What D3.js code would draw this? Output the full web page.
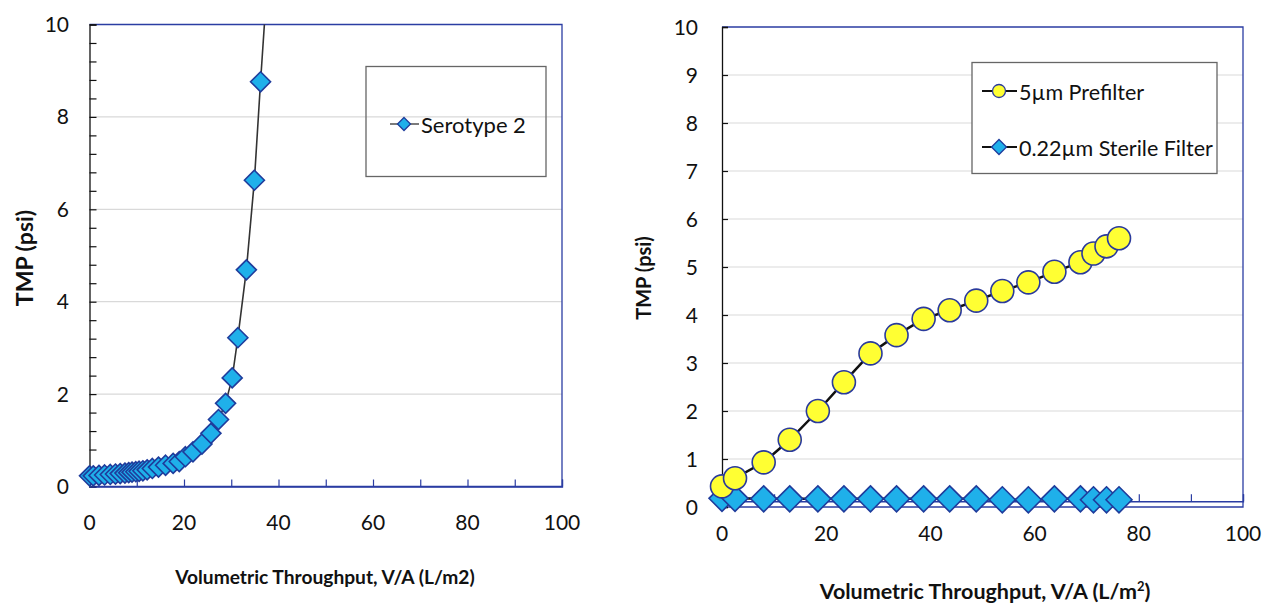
<!DOCTYPE html>
<html>
<head>
<meta charset="utf-8">
<script src="https://cdn.jsdelivr.net/npm/d3@7"></script>
<style>
  html, body { margin: 0; padding: 0; background: #fff; }
  svg { display: block; }
  text { font-family: Lato, "Noto Sans", sans-serif; fill: #111; }
</style>
</head>
<body>
<svg id="chart" width="1263" height="606"></svg>
<script>
// Serotype 2 throughput run (left panel)
const seroX = [0, 0.8, 2, 3.2, 4.4, 5.5, 6.5, 7.5, 8.3, 9.0, 9.8, 10.5, 11.3, 12.2, 13.3, 14.6, 16.1, 17.7, 19.0, 20.3, 21.9, 23.8, 25.7, 27.3, 28.8, 30.2, 31.4, 33.2, 34.9, 36.2, 37.8];
const seroY = [0.23, 0.23, 0.24, 0.25, 0.26, 0.27, 0.28, 0.29, 0.30, 0.31, 0.32, 0.33, 0.34, 0.36, 0.39, 0.42, 0.46, 0.50, 0.54, 0.645, 0.75, 0.92, 1.15, 1.45, 1.8, 2.35, 3.22, 4.69, 6.63, 8.76, 11.2];

// Prefilter / sterile filter train (right panel)
const trainX = [0, 2.5, 8, 13, 18.4, 23.4, 28.5, 33.5, 38.7, 43.7, 48.8, 53.8, 58.8, 63.8, 68.8, 71.3, 73.8, 76.2];
const prefilterY = [0.43, 0.6, 0.93, 1.4, 2.0, 2.6, 3.2, 3.58, 3.92, 4.1, 4.3, 4.5, 4.68, 4.9, 5.1, 5.28, 5.43, 5.6];
const sterileY = [0.18, 0.18, 0.17, 0.17, 0.17, 0.17, 0.17, 0.17, 0.17, 0.17, 0.17, 0.15, 0.15, 0.17, 0.17, 0.15, 0.15, 0.15];

const xTickLabels = [0, 20, 40, 60, 80, 100];
const leftYTickLabels = [0, 2, 4, 6, 8, 10];
const rightYTickLabels = [0, 1, 2, 3, 4, 5, 6, 7, 8, 9, 10];

const svg = d3.select("#chart");
const FRAME = "#2b3da3";
const DIAMOND_FILL = "#1fb0ea", DIAMOND_STROKE = "#1f3c9c";
const CIRCLE_FILL = "#ffff33", CIRCLE_STROKE = "#2a3a9c";
const TICK_FONT = 21;

function diamondPath(cx, cy, r) {
  return `M${cx},${cy - r}L${cx + r},${cy}L${cx},${cy + r}L${cx - r},${cy}Z`;
}

/* ---------------- Left panel ---------------- */
{
  const x = d3.scaleLinear().domain([0, 100]).range([89.5, 562]);
  const y = d3.scaleLinear().domain([0, 10]).range([486.5, 24.5]);
  const g = svg.append("g");

  // horizontal gridlines
  g.selectAll("line.grid").data(leftYTickLabels.filter(v => v > 0 && v < 10)).join("line")
    .attr("x1", x(0)).attr("x2", x(100)).attr("y1", d => y(d)).attr("y2", d => y(d))
    .attr("stroke", "#d9d9d9").attr("stroke-width", 1.2);

  // plot frame (top / right / bottom)
  g.append("path")
    .attr("d", `M${x(0)},${y(10)}H${x(100)}V${y(0)}H${x(0)}`)
    .attr("fill", "none").attr("stroke", FRAME).attr("stroke-width", 1.3);

  // y axis: inside ticks every 0.4, labels every 2
  const yAx = g.append("g").attr("transform", `translate(${x(0)},0)`)
    .call(d3.axisRight(y).tickValues(d3.range(0, 10.01, 0.4)).tickSize(7).tickFormat(""));
  yAx.select(".domain").attr("stroke", "#111").attr("stroke-width", 1.3);
  yAx.selectAll(".tick line").attr("stroke", "#111").attr("stroke-width", 1.2);
  g.selectAll("text.ylab").data(leftYTickLabels).join("text")
    .attr("x", 69).attr("y", d => y(d)).attr("dy", "0.36em")
    .attr("text-anchor", "end").attr("font-size", TICK_FONT).text(d => d);

  // x axis: inside ticks every 10, labels every 20
  const xAx = g.append("g").attr("transform", `translate(0,${y(0)})`)
    .call(d3.axisTop(x).tickValues(d3.range(0, 101, 10)).tickSize(7).tickFormat(""));
  xAx.select(".domain").attr("stroke", FRAME).attr("stroke-width", 1.3);
  xAx.selectAll(".tick line").attr("stroke", FRAME).attr("stroke-width", 1.2);
  g.selectAll("text.xlab").data(xTickLabels).join("text")
    .attr("x", d => x(d)).attr("y", 530)
    .attr("text-anchor", "middle").attr("font-size", TICK_FONT).text(d => d);

  // axis titles
  g.append("text").attr("transform", `translate(33,258) rotate(-90)`)
    .attr("text-anchor", "middle").attr("font-size", 23).attr("font-weight", "bold").text("TMP (psi)");
  g.append("text").attr("x", 325).attr("y", 584)
    .attr("text-anchor", "middle").attr("font-size", 19.2).attr("font-weight", "bold")
    .text("Volumetric Throughput, V/A (L/m2)");

  // series line, clipped to the plotting region
  g.append("clipPath").attr("id", "clipL").append("rect")
    .attr("x", x(0)).attr("y", y(10)).attr("width", x(100) - x(0)).attr("height", y(0) - y(10));
  const pts = seroX.map((v, i) => [v, seroY[i]]);
  g.append("path").datum(pts).attr("clip-path", "url(#clipL)")
    .attr("d", d3.line().x(d => x(d[0])).y(d => y(d[1])))
    .attr("fill", "none").attr("stroke", "#333").attr("stroke-width", 1.6);

  g.selectAll("path.mk").data(pts.filter(d => d[1] <= 10)).join("path")
    .attr("d", d => diamondPath(x(d[0]), y(d[1]), 10))
    .attr("fill", DIAMOND_FILL).attr("stroke", DIAMOND_STROKE).attr("stroke-width", 1.6);

  // legend
  const lg = g.append("g");
  lg.append("rect").attr("x", 366).attr("y", 66.5).attr("width", 180).attr("height", 110)
    .attr("fill", "none").attr("stroke", "#666").attr("stroke-width", 1.3);
  lg.append("line").attr("x1", 390).attr("x2", 419).attr("y1", 124).attr("y2", 124)
    .attr("stroke", "#333").attr("stroke-width", 1.3);
  lg.append("path").attr("d", diamondPath(404, 124, 6.5))
    .attr("fill", DIAMOND_FILL).attr("stroke", DIAMOND_STROKE).attr("stroke-width", 1.3);
  lg.append("text").attr("x", 421).attr("y", 125).attr("dy", "0.35em")
    .attr("font-size", 22).text("Serotype 2");
}

/* ---------------- Right panel ---------------- */
{
  const x = d3.scaleLinear().domain([0, 100]).range([722, 1243]);
  const y = d3.scaleLinear().domain([0, 10]).range([507, 27]);
  const g = svg.append("g");

  g.selectAll("line.grid").data(rightYTickLabels.filter(v => v > 0 && v < 10)).join("line")
    .attr("x1", x(0)).attr("x2", x(100)).attr("y1", d => y(d)).attr("y2", d => y(d))
    .attr("stroke", "#d9d9d9").attr("stroke-width", 1.2);

  g.append("path")
    .attr("d", `M${x(0)},${y(10)}H${x(100)}V${y(0)}H${x(0)}`)
    .attr("fill", "none").attr("stroke", FRAME).attr("stroke-width", 1.3);

  const yAx = g.append("g").attr("transform", `translate(${x(0)},0)`)
    .call(d3.axisRight(y).tickValues(rightYTickLabels).tickSize(6).tickFormat(""));
  yAx.select(".domain").attr("stroke", "#111").attr("stroke-width", 1.3);
  yAx.selectAll(".tick line").attr("stroke", "#111").attr("stroke-width", 1.2);
  g.selectAll("text.ylab").data(rightYTickLabels).join("text")
    .attr("x", 698).attr("y", d => y(d)).attr("dy", "0.36em")
    .attr("text-anchor", "end").attr("font-size", TICK_FONT).text(d => d);

  // x axis crosses slightly above zero
  const xAx = g.append("g").attr("transform", `translate(0,${y(0.12)})`)
    .call(d3.axisTop(x).tickValues(d3.range(0, 101, 10)).tickSize(7).tickFormat(""));
  xAx.select(".domain").attr("stroke", FRAME).attr("stroke-width", 1.3);
  xAx.selectAll(".tick line").attr("stroke", FRAME).attr("stroke-width", 1.2);
  g.selectAll("text.xlab").data(xTickLabels).join("text")
    .attr("x", d => x(d)).attr("y", 541)
    .attr("text-anchor", "middle").attr("font-size", TICK_FONT).text(d => d);

  g.append("text").attr("transform", `translate(651,278) rotate(-90)`)
    .attr("text-anchor", "middle").attr("font-size", 20).attr("font-weight", "bold").text("TMP (psi)");
  const title = g.append("text").attr("x", 985).attr("y", 599)
    .attr("text-anchor", "middle").attr("font-size", 21.5).attr("font-weight", "bold");
  title.append("tspan").text("Volumetric Throughput, V/A (L/m");
  title.append("tspan").attr("dy", -8).attr("font-size", 13).text("2");
  title.append("tspan").attr("dy", 8).text(")");

  const line = d3.line().x(d => x(d[0])).y(d => y(d[1]));
  const pre = trainX.map((v, i) => [v, prefilterY[i]]);
  const ster = trainX.map((v, i) => [v, sterileY[i]]);

  g.append("path").datum(ster).attr("d", line)
    .attr("fill", "none").attr("stroke", "#111").attr("stroke-width", 2.5);
  g.selectAll("path.dm").data(ster).join("path")
    .attr("d", d => diamondPath(x(d[0]), y(d[1]), 13))
    .attr("fill", DIAMOND_FILL).attr("stroke", DIAMOND_STROKE).attr("stroke-width", 1.6);

  g.append("path").datum(pre).attr("d", line)
    .attr("fill", "none").attr("stroke", "#111").attr("stroke-width", 2.5);
  g.selectAll("circle.pf").data(pre).join("circle")
    .attr("cx", d => x(d[0])).attr("cy", d => y(d[1])).attr("r", 11.5)
    .attr("fill", CIRCLE_FILL).attr("stroke", CIRCLE_STROKE).attr("stroke-width", 1.6);

  // legend
  const lg = g.append("g");
  lg.append("rect").attr("x", 972).attr("y", 62.5).attr("width", 245).attr("height", 111)
    .attr("fill", "#fff").attr("stroke", "#666").attr("stroke-width", 1.3);
  const rows = [
    { label: "5µm Prefilter", y: 91, kind: "circle" },
    { label: "0.22µm Sterile Filter", y: 147, kind: "diamond" }
  ];
  rows.forEach(r => {
    lg.append("line").attr("x1", 982).attr("x2", 1017).attr("y1", r.y).attr("y2", r.y)
      .attr("stroke", "#111").attr("stroke-width", 2.2);
    if (r.kind === "circle") {
      lg.append("circle").attr("cx", 999).attr("cy", r.y).attr("r", 6.5)
        .attr("fill", CIRCLE_FILL).attr("stroke", CIRCLE_STROKE).attr("stroke-width", 1.3);
    } else {
      lg.append("path").attr("d", diamondPath(999, r.y, 7.5))
        .attr("fill", DIAMOND_FILL).attr("stroke", DIAMOND_STROKE).attr("stroke-width", 1.3);
    }
    lg.append("text").attr("x", 1019).attr("y", r.y + 1).attr("dy", "0.35em")
      .attr("font-size", 21.5).text(r.label);
  });
}
</script>
</body>
</html>
